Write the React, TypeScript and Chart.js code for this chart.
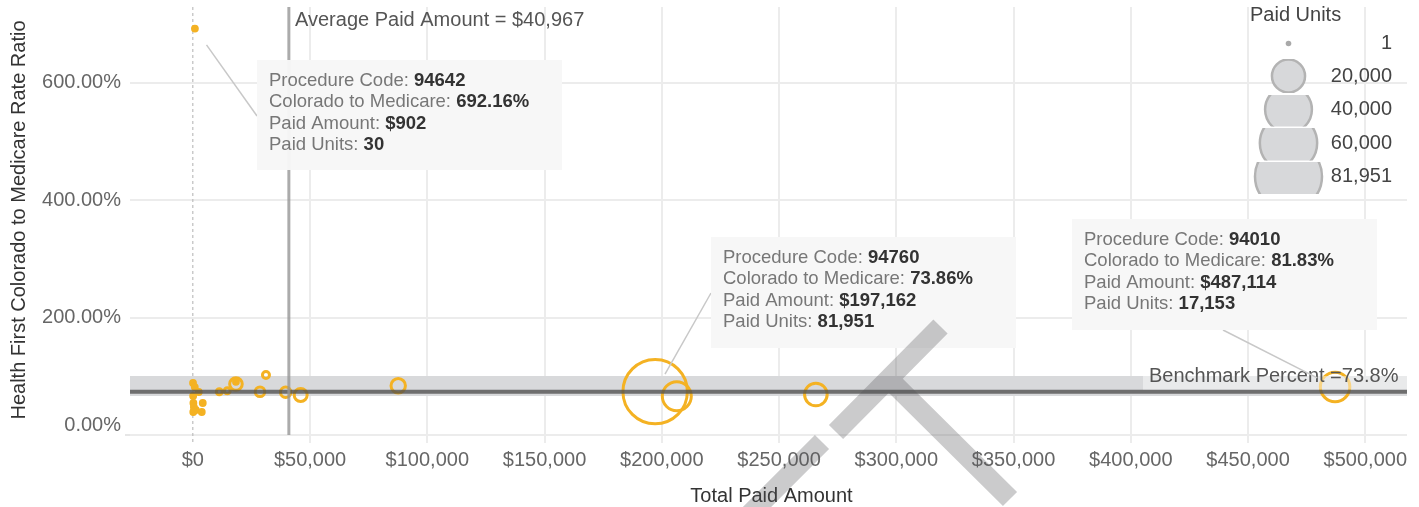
import React, { useEffect, useRef } from "react";
import { Chart, registerables } from "chart.js";

Chart.register(...registerables);

// ---------------- data ----------------
const paidAmount = [
  902, 100, 850, 2550, 150, 250, 4250, 450, 1300, 3830, 200,
  11300, 14700, 18400, 18400, 28650, 31200, 39600, 46000, 87600,
  197162, 206400, 265700, 487114,
];
const rateRatio = [
  692.16, 88.6, 81.7, 73.2, 66.4, 54.5, 54.5, 47.7, 42.6, 39.2, 39.2,
  73.7, 75.4, 86.8, 90.7, 73.7, 102.1, 72.7, 68.1, 83.9,
  73.86, 65.9, 68.9, 81.83,
];
const paidUnits = [
  30, 40, 120, 260, 80, 60, 300, 150, 200, 350, 50,
  700, 720, 3140, 300, 1820, 970, 2140, 3340, 4100,
  81951, 16600, 10100, 17153,
];

const calloutCodes = ["94642", "94760", "94010"];
const calloutPoint = [0, 20, 23];

const averagePaidAmount = 40967;
const benchmarkPercent = 73.8;
const benchmarkBand = [66.4, 100.5];

const xTicks = [0, 50000, 100000, 150000, 200000, 250000, 300000, 350000, 400000, 450000, 500000];
const yTicks = [0, 200, 400, 600];
const legendUnits = [1, 20000, 40000, 60000, 81951];
const maxUnits = 81951;

// ---------------- layout / style ----------------
const FONT = '"Liberation Sans", Arial, Helvetica, sans-serif';
const POINT_COLOR = "#F4B223";
const X_MIN = -26780;
const X_MAX = 517783;
const Y_MIN = -13.62;
const Y_MAX = 728.9;
const MIN_R = 2.4;

const boxLayout = [
  { x: 257, y: 60, w: 305, h: 110, ax: 257, ay: 116 },
  { x: 711, y: 237, w: 305, h: 111, ax: 711, ay: 293 },
  { x: 1072, y: 219, w: 305, h: 111, ax: 1223, ay: 330 },
];
const legendRows = [43.5, 76, 109.5, 143, 176.5];
const legendClip = [null, [59, 93], [95, 126.5], [128, 160.5], [162, 194]];

const radiusFor = (u: number) => Math.max(MIN_R, 32.2 * Math.sqrt(u / maxUnits));
const fmt = (n: number) => n.toLocaleString("en-US");

export default function App() {
  const ref = useRef<HTMLCanvasElement>(null);

  useEffect(() => {
    const canvas = ref.current!;
    const pts = paidAmount.map((x, i) => ({ x, y: rateRatio[i], r: radiusFor(paidUnits[i]) }));

    const overlay = {
      id: "overlay",
      beforeDatasetsDraw(chart: any) {
        const { ctx, chartArea: a, scales } = chart;
        const ys = scales.y;
        const xs = scales.x;
        ctx.save();
        const b1 = ys.getPixelForValue(benchmarkBand[1]);
        const b0 = ys.getPixelForValue(benchmarkBand[0]);
        ctx.fillStyle = "#d8d9db";
        ctx.fillRect(a.left, b1, a.right - a.left, b0 - b1);
        const x0 = xs.getPixelForValue(0);
        ctx.strokeStyle = "#bdbdbd";
        ctx.lineWidth = 1.2;
        ctx.setLineDash([3, 3]);
        ctx.beginPath();
        ctx.moveTo(x0, a.top);
        ctx.lineTo(x0, a.bottom);
        ctx.stroke();
        ctx.restore();
      },
      afterDatasetsDraw(chart: any) {
        const { ctx, chartArea: a, scales } = chart;
        const ys = scales.y;
        const xs = scales.x;
        ctx.save();
        const by = ys.getPixelForValue(benchmarkPercent);
        ctx.strokeStyle = "rgba(80,80,80,0.78)";
        ctx.lineWidth = 4;
        ctx.beginPath();
        ctx.moveTo(a.left, by);
        ctx.lineTo(a.right, by);
        ctx.stroke();
        const ax = xs.getPixelForValue(averagePaidAmount);
        ctx.strokeStyle = "rgba(150,150,150,0.8)";
        ctx.lineWidth = 3;
        ctx.beginPath();
        ctx.moveTo(ax, a.top);
        ctx.lineTo(ax, ys.getPixelForValue(0));
        ctx.stroke();
        ctx.restore();
      },
      afterDraw(chart: any) {
        const { ctx, chartArea: a, scales } = chart;
        const ys = scales.y;
        const xs = scales.x;
        ctx.save();
        const y0 = ys.getPixelForValue(0);
        ctx.strokeStyle = "#e6e6e6";
        ctx.lineWidth = 2;
        ctx.beginPath();
        ctx.moveTo(a.left - 5, y0);
        ctx.lineTo(a.left, y0);
        ctx.stroke();

        ctx.font = `20px ${FONT}`;
        ctx.fillStyle = "#666";
        ctx.textAlign = "right";
        ctx.textBaseline = "middle";
        yTicks.forEach((v) => {
          const py = ys.getPixelForValue(v) + (v === 0 ? -10 : 0);
          ctx.fillText(v.toFixed(2) + "%", 121, py);
        });

        ctx.fillStyle = "#333";
        ctx.textAlign = "center";
        ctx.textBaseline = "alphabetic";
        ctx.fillText("Total Paid Amount", 771.5, 502);
        ctx.save();
        ctx.translate(25, 220);
        ctx.rotate(-Math.PI / 2);
        ctx.fillText("Health First Colorado to Medicare Rate Ratio", 0, 0);
        ctx.restore();

        ctx.fillStyle = "#555";
        ctx.textAlign = "left";
        ctx.fillText("Average Paid Amount = $" + fmt(averagePaidAmount), 295, 26);

        ctx.fillStyle = "rgba(255,255,255,0.45)";
        ctx.fillRect(1143, ys.getPixelForValue(benchmarkBand[1]), a.right - 1143, 13.5);
        ctx.fillStyle = "#555";
        ctx.textAlign = "right";
        ctx.fillText("Benchmark Percent =" + benchmarkPercent + "%", 1398.5, 382);

        calloutPoint.forEach((pi, k) => {
          const L = boxLayout[k];
          const px = xs.getPixelForValue(paidAmount[pi]);
          const py = ys.getPixelForValue(rateRatio[pi]);
          const dx = L.ax - px;
          const dy = L.ay - py;
          const len = Math.hypot(dx, dy);
          const gap = 20;
          ctx.strokeStyle = "#c8c8c8";
          ctx.lineWidth = 1.5;
          ctx.beginPath();
          ctx.moveTo(L.ax, L.ay);
          ctx.lineTo(px + (dx / len) * gap, py + (dy / len) * gap);
          ctx.stroke();

          ctx.fillStyle = "rgba(247,247,247,0.96)";
          ctx.fillRect(L.x, L.y, L.w, L.h);

          const lines: [string, string][] = [
            ["Procedure Code: ", calloutCodes[k]],
            ["Colorado to Medicare: ", rateRatio[pi].toFixed(2) + "%"],
            ["Paid Amount: ", "$" + fmt(paidAmount[pi])],
            ["Paid Units: ", fmt(paidUnits[pi])],
          ];
          ctx.textAlign = "left";
          ctx.textBaseline = "middle";
          lines.forEach(([lab, val], j) => {
            const ty = L.y + 21 + j * 21.3;
            ctx.font = `18.5px ${FONT}`;
            ctx.fillStyle = "#777";
            ctx.fillText(lab, L.x + 12, ty);
            const w = ctx.measureText(lab).width;
            ctx.font = `bold 18.5px ${FONT}`;
            ctx.fillStyle = "#333";
            ctx.fillText(val, L.x + 12 + w, ty);
          });
        });

        ctx.font = `20px ${FONT}`;
        ctx.fillStyle = "#444";
        ctx.textAlign = "left";
        ctx.textBaseline = "alphabetic";
        ctx.fillText("Paid Units", 1250, 21);
        legendUnits.forEach((u, i) => {
          const cy = legendRows[i];
          const cx = 1288.5;
          const clip = legendClip[i];
          ctx.save();
          if (clip) {
            ctx.beginPath();
            ctx.rect(cx - 40, clip[0], 80, clip[1] - clip[0]);
            ctx.clip();
            const r = 33.5 * Math.sqrt(u / maxUnits);
            ctx.beginPath();
            ctx.arc(cx, cy, r, 0, Math.PI * 2);
            ctx.fillStyle = "#d7d8da";
            ctx.fill();
            ctx.strokeStyle = "#b3b3b3";
            ctx.lineWidth = 2.5;
            ctx.stroke();
          } else {
            ctx.beginPath();
            ctx.arc(cx, cy, 2.8, 0, Math.PI * 2);
            ctx.fillStyle = "#a9a9a9";
            ctx.fill();
          }
          ctx.restore();
          ctx.fillStyle = "#444";
          ctx.textAlign = "right";
          ctx.textBaseline = "middle";
          ctx.font = `20px ${FONT}`;
          ctx.fillText(fmt(u), 1392, cy);
        });

        ctx.strokeStyle = "rgba(82,82,86,0.3)";
        ctx.lineWidth = 20;
        ctx.lineCap = "butt";
        ctx.beginPath();
        ctx.moveTo(749, 515);
        ctx.lineTo(822, 442);
        ctx.moveTo(836, 432);
        ctx.lineTo(940.5, 326.5);
        ctx.moveTo(893, 383);
        ctx.lineTo(1010, 499);
        ctx.stroke();
        ctx.restore();
      },
    };

    const chart = new Chart(canvas, {
      type: "bubble",
      data: {
        datasets: [
          {
            data: pts,
            borderColor: POINT_COLOR,
            backgroundColor: (c: any) =>
              c.raw && c.raw.r <= MIN_R + 0.01 ? POINT_COLOR : "rgba(0,0,0,0)",
            borderWidth: 3,
          },
        ],
      },
      options: {
        responsive: false,
        animation: false,
        events: [],
        layout: { autoPadding: false, padding: { top: 7, right: 12, left: 0, bottom: 0 } },
        plugins: { legend: { display: false }, tooltip: { enabled: false } },
        scales: {
          x: {
            type: "linear",
            min: X_MIN,
            max: X_MAX,
            afterBuildTicks: (s: any) => {
              s.ticks = xTicks.map((v) => ({ value: v }));
            },
            afterFit: (s: any) => {
              s.height = 64;
            },
            border: { display: false },
            grid: {
              color: (c: any) => (c.tick && c.tick.value === 0 ? "rgba(0,0,0,0)" : "#ececec"),
              lineWidth: 2,
              drawTicks: false,
            },
            ticks: {
              padding: 5,
              color: "#666",
              font: { family: FONT, size: 20 },
              maxRotation: 0,
              autoSkip: false,
              callback: (v: any) => "$" + fmt(Number(v)),
            },
          },
          y: {
            type: "linear",
            min: Y_MIN,
            max: Y_MAX,
            afterBuildTicks: (s: any) => {
              s.ticks = yTicks.map((v) => ({ value: v }));
            },
            afterFit: (s: any) => {
              s.width = 130;
            },
            border: { display: false },
            grid: { color: "#ececec", lineWidth: 2, drawTicks: false },
            ticks: { display: false },
          },
        },
      },
      plugins: [overlay],
    } as any);
    return () => chart.destroy();
  }, []);

  return (
    <div style={{ position: "fixed", left: 0, top: 0, width: 1419, height: 507, background: "#fff" }}>
      <canvas ref={ref} width={1419} height={507} style={{ display: "block" }} />
    </div>
  );
}
